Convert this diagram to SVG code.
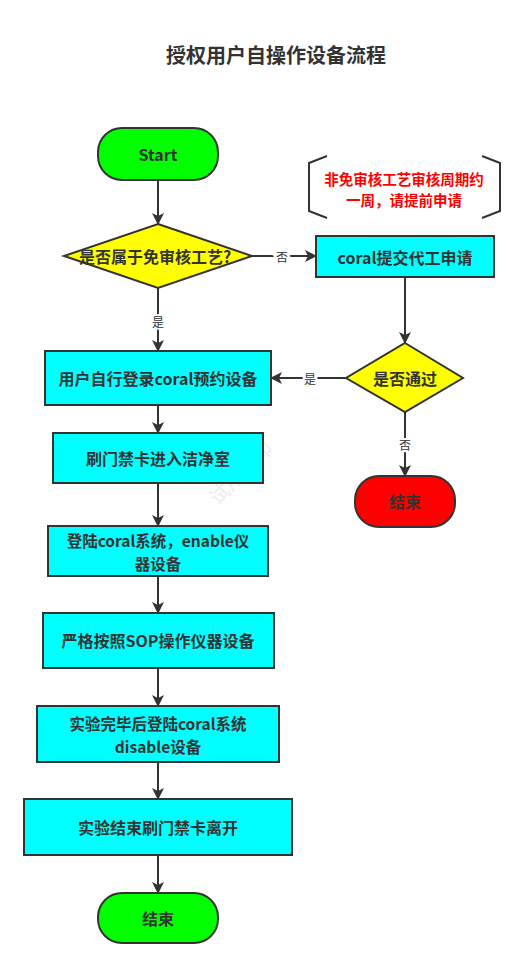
<svg xmlns="http://www.w3.org/2000/svg" width="524" height="968" viewBox="0 0 524 968">
<defs>
<marker id="ah" viewBox="0 0 12 12" refX="11" refY="6" markerWidth="12" markerHeight="12" markerUnits="userSpaceOnUse" orient="auto">
<path d="M0,0 L12,6 L0,12 L3,6 Z" fill="#333"/>
</marker>
<style>
.t{font-family:"Noto Sans CJK SC","Noto Sans",sans-serif;font-size:16px;font-weight:bold;fill:#333;text-anchor:middle;dominant-baseline:central}
.t2{font-size:15.5px}
.box{fill:#00FFFF;stroke:#333;stroke-width:2}
.term{stroke:#333;stroke-width:2}
.dia{fill:#FFFF00;stroke:#333;stroke-width:2}
.c{fill:none;stroke:#333;stroke-width:2;marker-end:url(#ah)}
.lbl{font-family:"Noto Sans CJK SC",sans-serif;font-size:12px;fill:#333;text-anchor:middle;dominant-baseline:central;stroke:#fff;stroke-width:4;paint-order:stroke}
</style>
</defs>
<rect width="524" height="968" fill="#fff"/>
<text x="276" y="54" class="t" style="font-size:20px">授权用户自操作设备流程</text>
<text x="240" y="472" transform="rotate(-45 240 472)" style="font-family:'Noto Sans CJK SC',sans-serif;font-size:20px;fill:#ececec;text-anchor:middle;dominant-baseline:central">试用水印</text>
<g id="connectors">
<path class="c" d="M158,180 L158,224"/>
<path class="c" d="M252,256 L316,256"/>
<text x="282" y="256" class="lbl">否</text>
<path class="c" d="M158,288 L158,351"/>
<text x="158" y="321" class="lbl">是</text>
<path class="c" d="M405,277 L405,343"/>
<path class="c" d="M346,378 L271,378"/>
<text x="310" y="378" class="lbl">是</text>
<path class="c" d="M405,412 L405,476"/>
<text x="405" y="444" class="lbl">否</text>
<path class="c" d="M158,405 L158,433"/>
<path class="c" d="M158,483 L158,526"/>
<path class="c" d="M158,576 L158,613"/>
<path class="c" d="M158,668 L158,706"/>
<path class="c" d="M158,762 L158,799"/>
<path class="c" d="M158,855 L158,893"/>
</g>
<g id="start"><rect x="98" y="128" width="120" height="52" rx="24" class="term" fill="#00FF00"/><text x="158" y="154" class="t">Start</text></g>
<g id="note">
<path d="M327,156 L309,163 L309,211 L327,218 M482,156 L500,163 L500,211 L482,218" fill="none" stroke="#333" stroke-width="2"/>
<text x="404" y="178" class="t" style="font-size:14.5px;fill:#FF0000">非免审核工艺审核周期约</text>
<text x="404" y="199" class="t" style="font-size:14.5px;fill:#FF0000">一周，请提前申请</text>
</g>
<g id="d1"><path d="M158,224 L252,256 L158,288 L64,256 Z" class="dia"/><text x="155" y="256" class="t">是否属于免审核工艺?</text></g>
<g id="apply"><rect x="316" y="236" width="178" height="41" class="box"/><text x="405" y="257" class="t">coral提交代工申请</text></g>
<g id="d2"><path d="M405,343 L463,378 L405,412 L346,378 Z" class="dia"/><text x="405" y="378" class="t">是否通过</text></g>
<g id="endRed"><rect x="355" y="476" width="100" height="51" rx="24" class="term" fill="#FF0000"/><text x="405" y="501" class="t">结束</text></g>
<g id="reserve"><rect x="45" y="351" width="226" height="54" class="box"/><text x="158" y="378" class="t">用户自行登录coral预约设备</text></g>
<g id="card"><rect x="53" y="433" width="210" height="50" class="box"/><text x="158" y="458" class="t">刷门禁卡进入洁净室</text></g>
<g id="enable"><rect x="48" y="526" width="220" height="50" class="box"/><text x="158" y="540" class="t t2">登陆coral系统，enable仪</text><text x="158" y="563" class="t t2">器设备</text></g>
<g id="sop"><rect x="43" y="613" width="231" height="55" class="box"/><text x="158" y="640" class="t">严格按照SOP操作仪器设备</text></g>
<g id="disable"><rect x="37" y="706" width="242" height="56" class="box"/><text x="158" y="723" class="t t2">实验完毕后登陆coral系统</text><text x="158" y="746" class="t t2">disable设备</text></g>
<g id="leave"><rect x="24" y="799" width="268" height="56" class="box"/><text x="158" y="827" class="t">实验结束刷门禁卡离开</text></g>
<g id="end"><rect x="98" y="893" width="120" height="50" rx="24" class="term" fill="#00FF00"/><text x="158" y="918" class="t">结束</text></g>
</svg>
